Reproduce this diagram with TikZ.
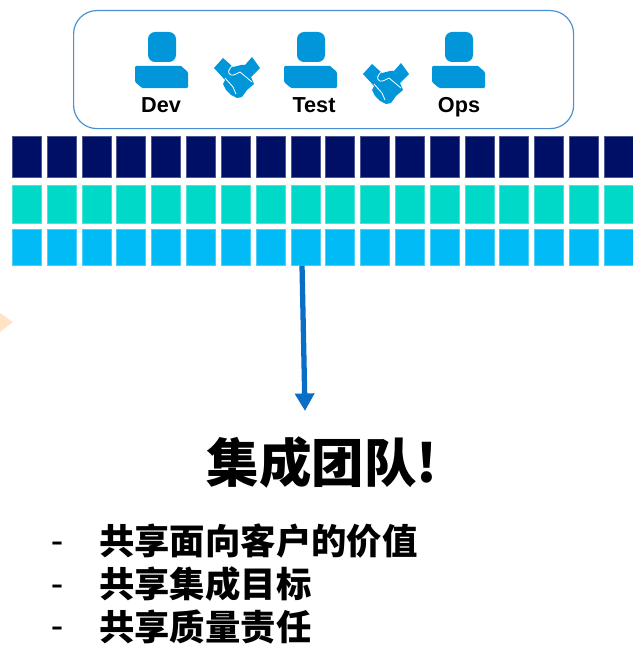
\documentclass[tikz,border=0pt]{standalone}
\usepackage{fontspec}
\newfontfamily\cjk{Noto Sans CJK SC}
\setsansfont{Liberation Sans}
\usetikzlibrary{arrows.meta, positioning, calc}
\definecolor{navyrow}{HTML}{000F66}
\definecolor{tealrow}{HTML}{00D8C8}
\definecolor{skyrow}{HTML}{00BBF5}
\definecolor{iconblue}{HTML}{0096D9}
\definecolor{boxblue}{HTML}{4A90D0}
\definecolor{arrowblue}{HTML}{0A6EC4}
\definecolor{paleorange}{HTML}{FFE3C4}
\tikzset{
	cell/.style = {minimum width=0.87cm, inner sep=0pt, line width=0.5pt},
	role/.style = {font=\sffamily\bfseries\fontsize{18.5}{18.5}\selectfont, inner sep=0pt, anchor=base},
	item/.style = {font=\cjk\bfseries\fontsize{30.2}{31}\selectfont, inner sep=0pt, anchor=west},
	dashmark/.style = {font=\sffamily\fontsize{32}{32}\selectfont, inner sep=0pt},
	person/.pic = {
		\fill[iconblue, rounded corners=6pt] (13,-34) rectangle (41,-4);
		\fill[iconblue] (0,0) -- (46,0) [rounded corners=1pt] -- (53,6) -- (53,22) -- (7,22) -- (0,16) -- cycle;
	},
	shake/.pic = {
		\fill[iconblue] (0,11) -- (9,1) -- (19,10) -- (27,8) -- (31,8) -- (38,0) -- (46,11) -- (37,20) -- (40,27) -- (33,33) -- (28,40) -- (23,41) -- (17,38) -- (12,33) -- (9,27) -- (11,23) -- cycle;
		\draw[white, line width=0.7pt] (19,8) .. controls (14,13) and (13,16) .. (17,18) .. controls (20,19) and (23,16) .. (26,15) -- (38,25);
		\draw[white, line width=0.7pt] (11,21) -- (19,30) -- (22,37);
	}
}
\begin{document}
\begin{tikzpicture}[x=0.03cm, y=-0.03cm]
	\useasboundingbox (0,0) rectangle (632,647);

	\node(team) [draw=boxblue, line width=1pt, rounded corners=0.7cm, minimum width=15cm, minimum height=3.54cm, anchor=north west] at (73,10) {};

	\pic at (135,66) {person};
	\pic at (284,66) {person};
	\pic at (432,66) {person};
	\pic at (214,57) {shake};
	\pic at (363,63) {shake};

	\node(dev) [role] at (161,112) {Dev};
	\node(test) [role] at (314,112) {Test};
	\node(ops) [role] at (459,112) {Ops};

	%--------------------------------------------------------------------
	\foreach \i in {0,...,17} {
		\node(a\i) [cell, fill=navyrow, draw=navyrow!70!white, minimum height=1.23cm, anchor=north west] at (12+\i*34.82,136) {};
		\node(b\i) [cell, fill=tealrow, draw=tealrow!70!white, minimum height=1.14cm, anchor=north west] at (12+\i*34.82,185) {};
		\node(c\i) [cell, fill=skyrow, draw=skyrow!70!white, minimum height=1.08cm, anchor=north west] at (12+\i*34.82,229) {};
	}

	\fill[paleorange] (0,313) -- (13,322) -- (0,332) -- cycle;

	%--------------------------------------------------------------------
	\coordinate (tip) at (305,411);
	\draw[-{Triangle[length=15, width=16]}, arrowblue, line width=4.5] ([xshift=-0.1cm]c8.south) -- (tip);

	\node(title) [font=\cjk\bfseries\fontsize{44.8}{45}\selectfont, inner sep=0pt] at (322,462) {集成团队!};

	%--------------------------------------------------------------------
	\node(value) [item] at (99,541) {共享面向客户的价值};
	\node(goal) [item] at (99,584) {共享集成目标};
	\node(quality) [item] at (99,627) {共享质量责任};
	\node(d1) [dashmark] at (57,548) {-};
	\node(d2) [dashmark] at (57,591) {-};
	\node(d3) [dashmark] at (57,633) {-};
\end{tikzpicture}
\end{document}
